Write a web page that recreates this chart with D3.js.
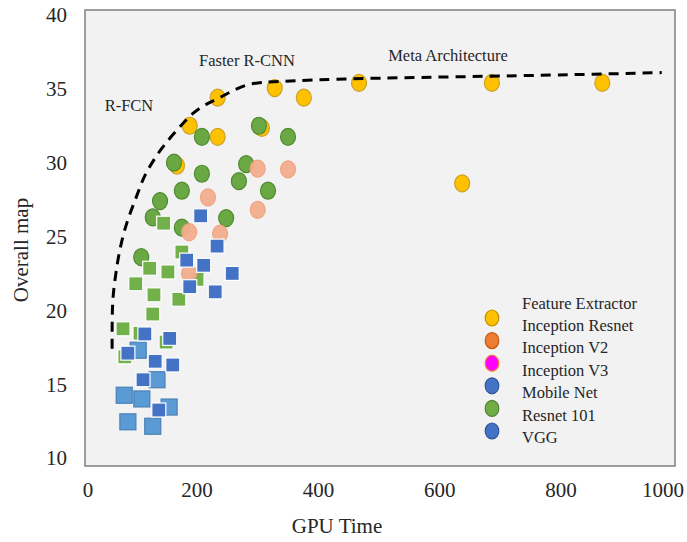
<!DOCTYPE html>
<html>
<head>
<meta charset="utf-8">
<script src="https://cdn.jsdelivr.net/npm/d3@7"></script>
<style>
  body { margin: 0; background: #ffffff; }
  text { font-family: "Liberation Serif", "Times New Roman", serif; fill: #262626; }
</style>
</head>
<body>
<div id="chart"></div>
<script>
// Datos (GPU Time, Overall map)
var inceptionResnetX = [234, 328, 376, 188, 234, 167, 307, 467, 686, 868, 637];
var inceptionResnetY = [34.4, 35.05, 34.4, 32.5, 31.75, 29.8, 32.35, 35.4, 35.4, 35.4, 28.6];

var resnetX = [208, 302, 350, 162, 208, 281, 269, 317, 175, 139, 127, 248, 175, 108];
var resnetY = [31.75, 32.5, 31.75, 30.0, 29.25, 29.9, 28.75, 28.1, 28.1, 27.4, 26.3, 26.25, 25.6, 23.6];

var inceptionV2X = [300, 350, 218, 300, 187, 238, 187];
var inceptionV2Y = [29.6, 29.55, 27.65, 26.8, 25.3, 25.2, 22.5];

var resnetSqX = [145, 175, 122, 152, 200, 99, 129, 170, 127, 78, 106, 149, 81];
var resnetSqY = [25.9, 23.95, 22.85, 22.6, 22.1, 21.8, 21.05, 20.75, 19.75, 18.75, 18.45, 17.85, 16.85];

var vggX = [103, 134, 80, 109, 154, 86, 127];
var vggY = [17.3, 15.3, 14.25, 14.0, 13.45, 12.45, 12.15];

var mobileX = [206, 233, 183, 211, 258, 188, 230, 114, 155, 86, 131, 160, 111, 137];
var mobileY = [26.4, 24.35, 23.4, 23.05, 22.5, 21.6, 21.25, 18.4, 18.1, 17.1, 16.55, 16.3, 15.3, 13.25];

// Curva punteada (frontera)
var curveX = [60, 60, 61, 66, 73, 85, 98, 109, 118, 142, 169, 193, 216, 238, 266, 292, 315, 337, 391, 455, 686, 869, 966];
var curveY = [17.4, 19.35, 20.9, 22.5, 24.3, 26.1, 27.45, 28.7, 29.5, 31.05, 32.3, 33.4, 34.0, 34.4, 35.05, 35.4, 35.45, 35.5, 35.6, 35.7, 35.85, 36.0, 36.1];

var xTicks = [0, 200, 400, 600, 800, 1000];
var yTicks = [10, 15, 20, 25, 30, 35, 40];

var legendNames = ["Inception Resnet", "Inception V2", "Inception V3", "Mobile Net", "Resnet 101", "VGG"];
var legendFill = ["#FFC000", "#ED7D31", "#FF00FF", "#4472C4", "#70AD47", "#4472C4"];
var legendStroke = ["#BF9000", "#C55A11", "#ED7D31", "#2F5597", "#548235", "#2F5597"];

// Dimensiones
var width = 687, height = 542;
var box = {left: 85, right: 675, top: 10, bottom: 466};

var svg = d3.select("#chart").append("svg")
    .attr("width", width)
    .attr("height", height);

var x = d3.scaleLinear().domain([0, 1000]).range([75.7, 682.4]);
var y = d3.scaleLinear().domain([10, 40]).range([458, 15]);

// Fondo del area del grafico
svg.append("rect")
    .attr("x", box.left).attr("y", box.top)
    .attr("width", box.right - box.left)
    .attr("height", box.bottom - box.top)
    .attr("fill", "#F2F2F2")
    .attr("stroke", "#7F7F7F")
    .attr("stroke-width", 1.5);

// Etiquetas de ejes
svg.selectAll(".ylab").data(yTicks).enter().append("text")
    .attr("class", "ylab")
    .attr("x", 67).attr("y", function(d){ return y(d); })
    .attr("dy", "0.35em")
    .style("text-anchor", "end")
    .style("font-size", "21px")
    .text(function(d){ return d; });

svg.selectAll(".xlab").data(xTicks).enter().append("text")
    .attr("class", "xlab")
    .attr("x", function(d){ return Math.max(88, Math.min(663, x(d))); })
    .attr("y", 497)
    .style("text-anchor", "middle")
    .style("font-size", "21px")
    .text(function(d){ return d; });

svg.append("text")
    .attr("x", 337).attr("y", 533)
    .style("text-anchor", "middle")
    .style("font-size", "21px")
    .text("GPU Time");

svg.append("text")
    .attr("transform", "translate(28,250) rotate(-90)")
    .style("text-anchor", "middle")
    .style("font-size", "21px")
    .text("Overall map");

// Puntos
function circles(xs, ys, fill, stroke, op){
    svg.append("g").selectAll("ellipse")
        .data(d3.zip(xs, ys)).enter().append("ellipse")
        .attr("cx", function(d){ return x(d[0]); })
        .attr("cy", function(d){ return y(d[1]); })
        .attr("rx", 7.5).attr("ry", 8.5)
        .attr("fill", fill)
        .attr("stroke", stroke)
        .attr("stroke-width", 1.2)
        .style("opacity", op);
}
function squares(xs, ys, size, fill, stroke){
    svg.append("g").selectAll("rect")
        .data(d3.zip(xs, ys)).enter().append("rect")
        .attr("x", function(d){ return x(d[0]) - size / 2; })
        .attr("y", function(d){ return y(d[1]) - size / 2; })
        .attr("width", size).attr("height", size)
        .attr("fill", fill)
        .attr("stroke", stroke)
        .attr("stroke-width", 1.2);
}

circles(inceptionResnetX, inceptionResnetY, "#FFC000", "#C9A227", 1);
circles(resnetX, resnetY, "#6AA844", "#4E8A30", 1);
squares(resnetSqX, resnetSqY, 14, "#72B04A", "#ffffff");
circles(inceptionV2X, inceptionV2Y, "#F4AE8E", "#F2A07C", 0.95);
squares(vggX, vggY, 16, "#5B9BD5", "#4A80B5");
squares(mobileX, mobileY, 14, "#4472C4", "#ffffff");

// Linea punteada
var frontier = d3.line()
    .x(function(d){ return x(d[0]); })
    .y(function(d){ return y(d[1]); })
    .curve(d3.curveBasis);

svg.append("path")
    .attr("d", frontier(d3.zip(curveX, curveY)))
    .attr("fill", "none")
    .attr("stroke", "#000000")
    .attr("stroke-width", 3)
    .attr("stroke-dasharray", "10,7");

// Anotaciones
drawText(129, 111, "R-FCN");
drawText(247, 66, "Faster R-CNN");
drawText(448, 61, "Meta Architecture");

// Leyenda
var legend = svg.append("g");
drawText(522, 309, "Feature Extractor", "start", legend);
legend.selectAll(".lt").data(legendNames).enter().append("text")
    .attr("class", "lt")
    .attr("x", 522)
    .attr("y", function(d, i){ return 331 + i * 22.4; })
    .style("font-size", "16.5px")
    .text(function(d){ return d; });
legend.selectAll("ellipse").data(legendNames).enter().append("ellipse")
    .attr("cx", 492)
    .attr("cy", function(d, i){ return 318 + i * 22.6; })
    .attr("rx", 6.8).attr("ry", 8)
    .attr("fill", function(d, i){ return legendFill[i]; })
    .attr("stroke", function(d, i){ return legendStroke[i]; })
    .attr("stroke-width", 1.2);

// Funcion auxiliar para pintar texto
function drawText(px, py, texto, anchor, el){
    (el || svg).append("text")
        .attr("x", px).attr("y", py)
        .style("text-anchor", anchor || "middle")
        .style("font-size", "16.5px")
        .text(texto);
}
</script>
</body>
</html>
